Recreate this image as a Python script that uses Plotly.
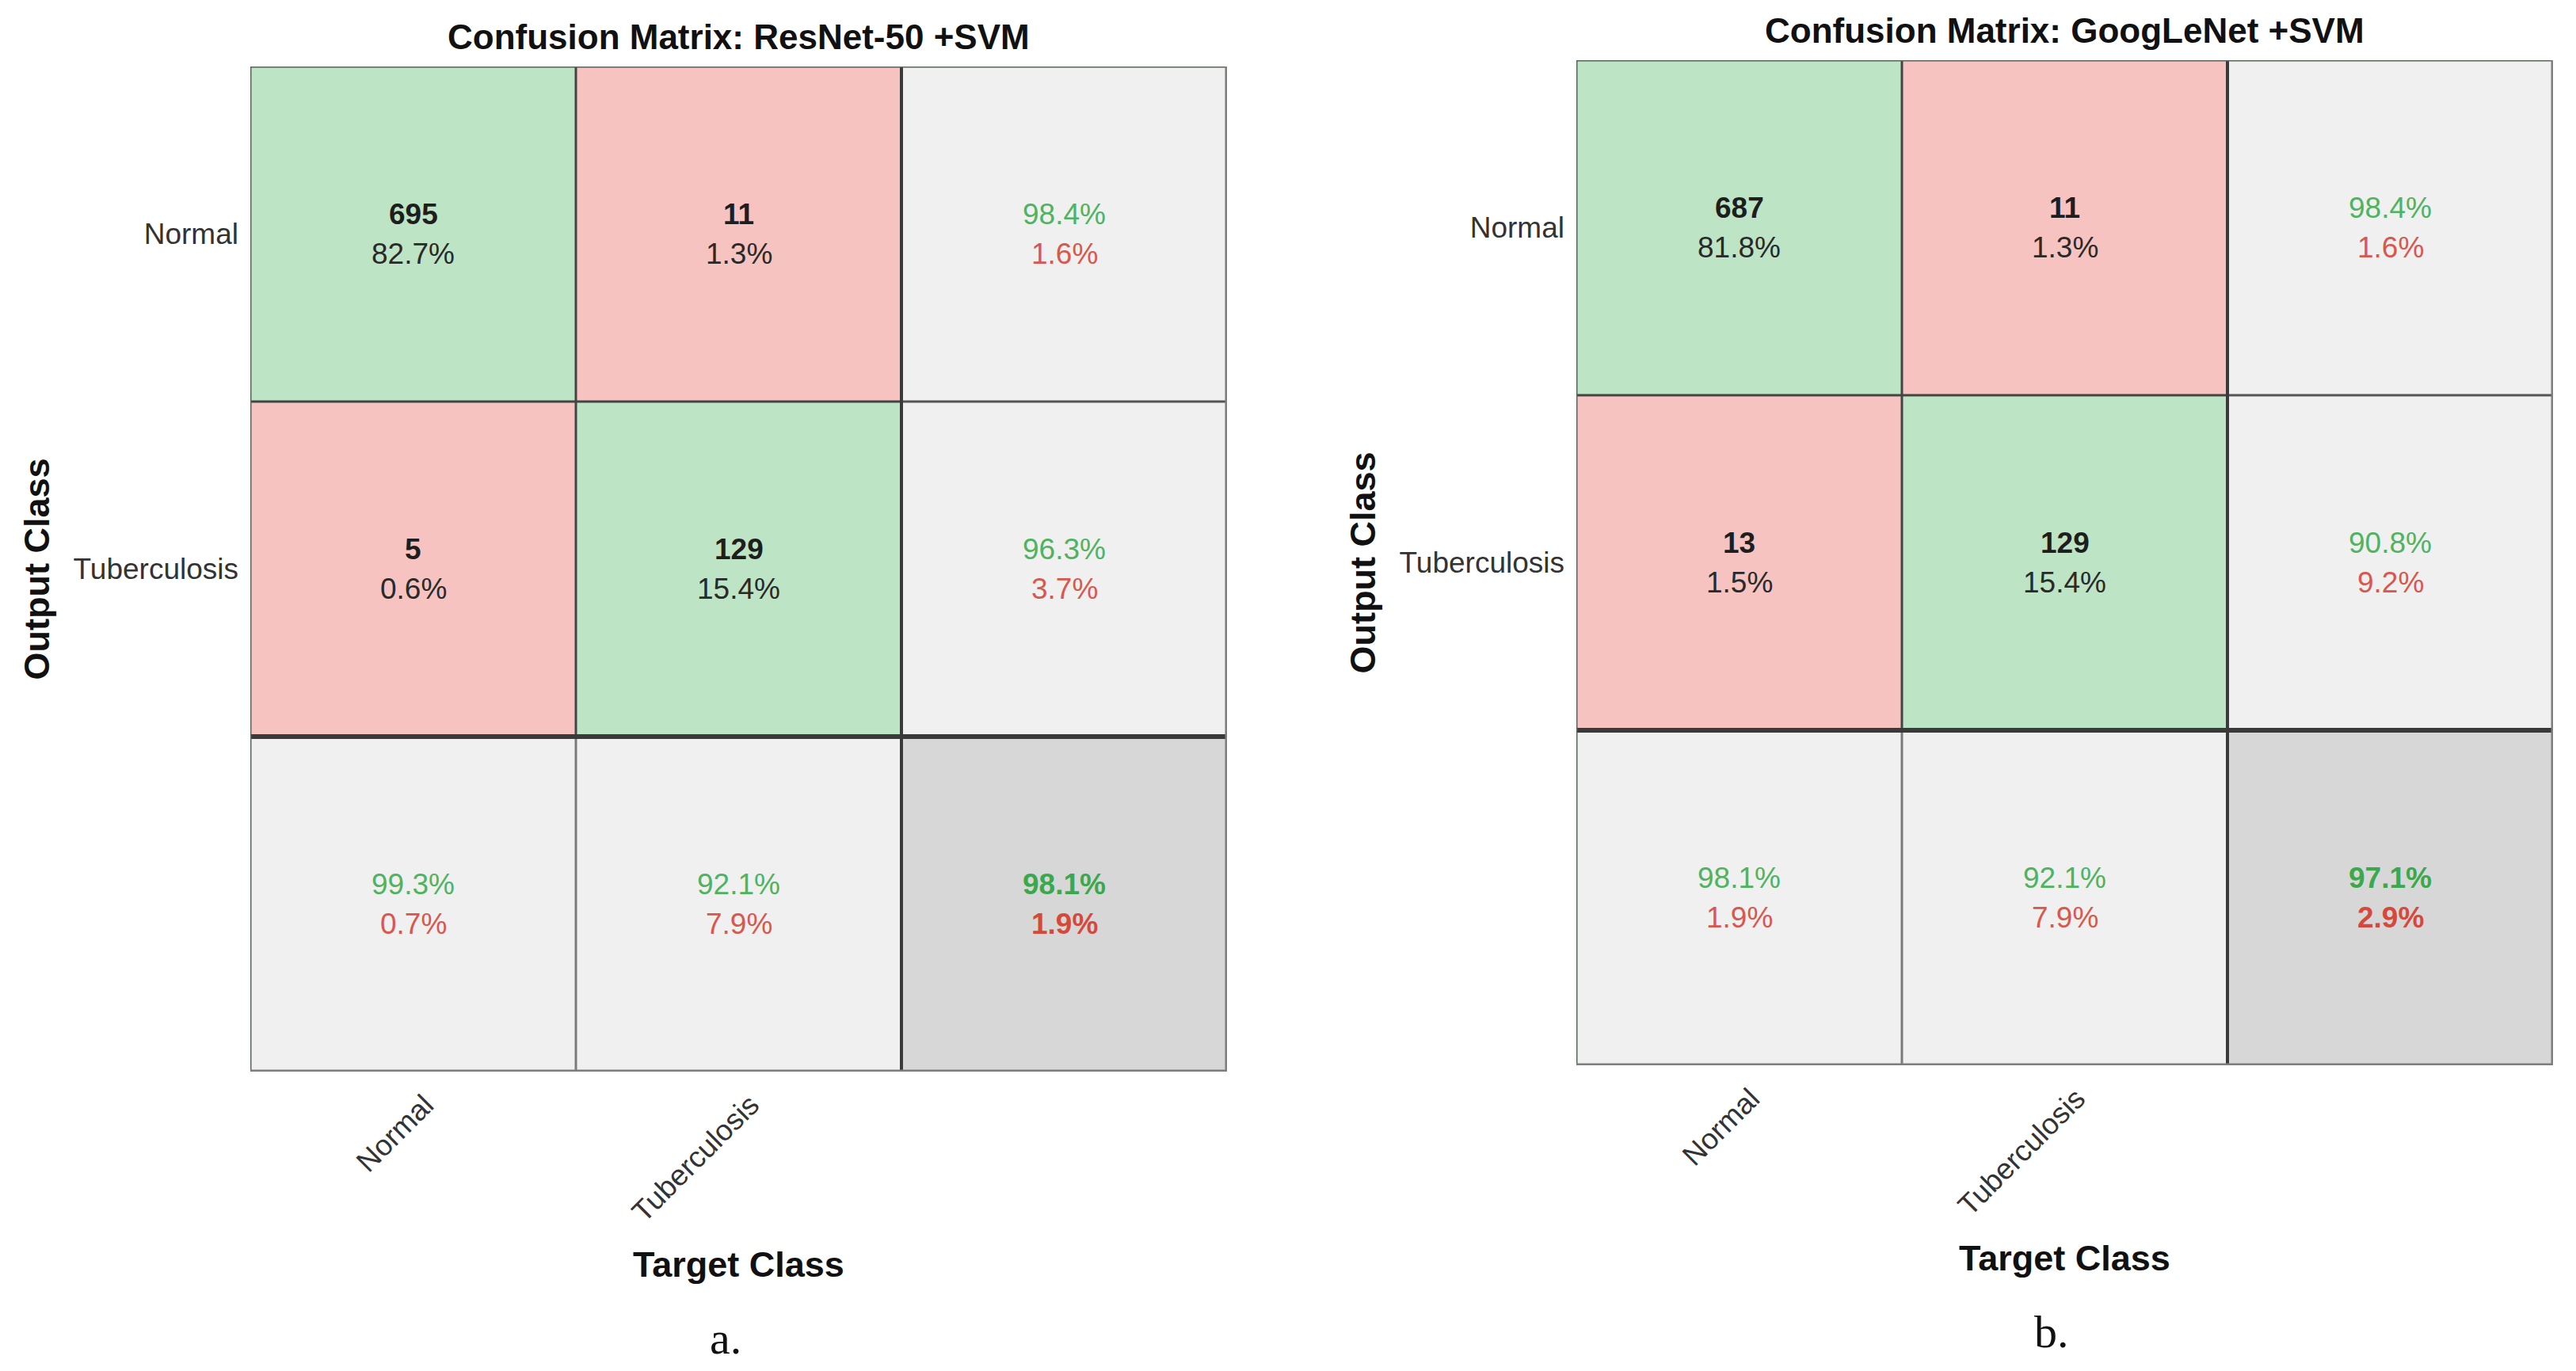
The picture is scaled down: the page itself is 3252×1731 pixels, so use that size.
import plotly.graph_objects as go

# ---------------- data ----------------
classes = ["Normal", "Tuberculosis"]

titles = ["Confusion Matrix: ResNet-50 +SVM", "Confusion Matrix: GoogLeNet +SVM"]
panel_labels = ["a.", "b."]

resnet_counts = [[695, 11], [5, 129]]
resnet_pct = [[82.7, 1.3], [0.6, 15.4]]
resnet_row_acc = [98.4, 96.3]
resnet_row_err = [1.6, 3.7]
resnet_col_acc = [99.3, 92.1]
resnet_col_err = [0.7, 7.9]
resnet_overall = [98.1, 1.9]

googlenet_counts = [[687, 11], [13, 129]]
googlenet_pct = [[81.8, 1.3], [1.5, 15.4]]
googlenet_row_acc = [98.4, 90.8]
googlenet_row_err = [1.6, 9.2]
googlenet_col_acc = [98.1, 92.1]
googlenet_col_err = [1.9, 7.9]
googlenet_overall = [97.1, 2.9]

panels = [
    dict(counts=resnet_counts, pct=resnet_pct, row_acc=resnet_row_acc, row_err=resnet_row_err,
         col_acc=resnet_col_acc, col_err=resnet_col_err, overall=resnet_overall),
    dict(counts=googlenet_counts, pct=googlenet_pct, row_acc=googlenet_row_acc, row_err=googlenet_row_err,
         col_acc=googlenet_col_acc, col_err=googlenet_col_err, overall=googlenet_overall),
]

# ---------------- layout constants ----------------
OFF = 8                      # default page margin of the html body
W, H = 3252 - OFF, 1731 - OFF
# pixel boxes (screen coords) of the two matrices (left, right, top, bottom)
boxes = [(316, 1549, 84, 1353), (1990, 3223, 76, 1345)]


def px(x):
    return (x - OFF) / W


def py(y):
    return 1 - (y - OFF) / H


GREEN_BG = "#bde5c5"
RED_BG = "#f6c3c0"
GRAY_BG = "#f0f0f0"
DGRAY_BG = "#d7d7d7"
GREEN_TX = "#4fb35f"
RED_TX = "#d9574c"
DARK_TX = "#1e1e1e"
FONT = "Liberation Sans, Arial, sans-serif"
CELL_SIZE = 37
TICK_SIZE = 37

fig = go.Figure()

colorscale = [[0.0, GREEN_BG], [0.25, GREEN_BG], [0.25, RED_BG], [0.5, RED_BG],
              [0.5, GRAY_BG], [0.75, GRAY_BG], [0.75, DGRAY_BG], [1.0, DGRAY_BG]]

for i, (p, box) in enumerate(zip(panels, boxes)):
    xa = "x" if i == 0 else "x2"
    ya = "y" if i == 0 else "y2"
    # color codes: 0 correct, 1 wrong, 2 summary, 3 overall
    z = [[0 if r == c else 1 for c in range(2)] + [2] for r in range(2)] + [[2, 2, 3]]
    fig.add_trace(go.Heatmap(
        z=z, x=[0, 1, 2], y=[0, 1, 2], colorscale=colorscale, zmin=-0.5, zmax=3.5,
        showscale=False, hoverinfo="skip", xaxis=xa, yaxis=ya, xgap=0, ygap=0))

    l, r, t, b = box
    fig.layout[("xaxis" if i == 0 else "xaxis2")] = dict(
        domain=[px(l), px(r)], range=[-0.5, 2.5], showgrid=False, zeroline=False,
        tickvals=[0, 1], ticktext=classes, tickangle=-45, ticks="",
        ticklabelshift=15, ticklabelstandoff=12,
        tickfont=dict(family=FONT, size=TICK_SIZE, color="#333333"), anchor=ya, fixedrange=True)
    fig.layout[("yaxis" if i == 0 else "yaxis2")] = dict(
        domain=[py(b), py(t)], range=[2.5, -0.5], showgrid=False, zeroline=False,
        tickvals=[0, 1], ticktext=classes, ticks="", ticklabelstandoff=14,
        tickfont=dict(family=FONT, size=TICK_SIZE, color="#333333"), anchor=xa, fixedrange=True)

    xr, yr = xa, ya

    # grid lines
    def seg(x0, y0, x1, y1, color, width):
        fig.add_shape(type="line", xref=xr, yref=yr, x0=x0, y0=y0, x1=x1, y1=y1,
                      line=dict(color=color, width=width), layer="above")
    seg(0.5, -0.5, 0.5, 1.5, "#444444", 3)
    seg(-0.5, 0.5, 1.5, 0.5, "#444444", 3)
    seg(1.5, 0.5, 2.5, 0.5, "#555555", 3)
    seg(0.5, 1.5, 0.5, 2.5, "#7a7a7a", 3)
    seg(1.5, -0.5, 1.5, 2.5, "#3a3a3a", 4)
    seg(-0.5, 1.5, 2.5, 1.5, "#3a3a3a", 6)
    seg(-0.5, -0.5, 2.5, -0.5, "#5a655a", 3)
    seg(-0.5, -0.5, -0.5, 2.5, "#5a655a", 3)
    seg(-0.5, 2.5, 2.5, 2.5, "#7d7d7d", 5)
    seg(2.5, -0.5, 2.5, 2.5, "#7d7d7d", 5)

    def two_lines(x, y, top, bot, ctop, cbot, btop, bbot):
        t1 = f"<b>{top}</b>" if btop else top
        t2 = f"<b>{bot}</b>" if bbot else bot
        fig.add_annotation(x=x, y=y, xref=xr, yref=yr, text=t1, showarrow=False, yshift=25,
                           xanchor="center", yanchor="middle",
                           font=dict(family=FONT, size=CELL_SIZE, color=ctop))
        fig.add_annotation(x=x, y=y, xref=xr, yref=yr, text=t2, showarrow=False, yshift=-25,
                           xanchor="center", yanchor="middle",
                           font=dict(family=FONT, size=CELL_SIZE, color=cbot))

    for rr in range(2):
        for cc in range(2):
            two_lines(cc, rr, str(p["counts"][rr][cc]), f"{p['pct'][rr][cc]:.1f}%",
                      DARK_TX, "#2a2a2a", True, False)
        two_lines(2, rr, f"{p['row_acc'][rr]:.1f}%", f"{p['row_err'][rr]:.1f}%",
                  GREEN_TX, RED_TX, False, False)
    for cc in range(2):
        two_lines(cc, 2, f"{p['col_acc'][cc]:.1f}%", f"{p['col_err'][cc]:.1f}%",
                  GREEN_TX, RED_TX, False, False)
    two_lines(2, 2, f"{p['overall'][0]:.1f}%", f"{p['overall'][1]:.1f}%",
              "#3aa84c", "#d6473c", True, True)

    cx = (l + r) / 2
    cy = (t + b) / 2
    common = dict(xref="paper", yref="paper", showarrow=False, xanchor="center", yanchor="middle")
    # title
    fig.add_annotation(x=px(cx), y=py(t - 38), text=f"<b>{titles[i]}</b>",
                       font=dict(family=FONT, size=44, color="#111111"), **common)
    # y axis title
    fig.add_annotation(x=px(l - 270), y=py(cy), text="<b>Output Class</b>", textangle=-90,
                       font=dict(family=FONT, size=45, color="#111111"), **common)
    # x axis title
    fig.add_annotation(x=px(cx), y=py(b + 243), text="<b>Target Class</b>",
                       font=dict(family=FONT, size=45, color="#111111"), **common)
    # panel label
    fig.add_annotation(x=px(cx - 17), y=py(b + 336), text=panel_labels[i],
                       font=dict(family="Liberation Serif, Times New Roman, serif", size=58,
                                 color="#111111"), **common)

fig.update_layout(width=W, height=H, margin=dict(l=0, r=0, t=0, b=0),
                  paper_bgcolor="white", plot_bgcolor="white", showlegend=False)

fig.write_html("out.html")
